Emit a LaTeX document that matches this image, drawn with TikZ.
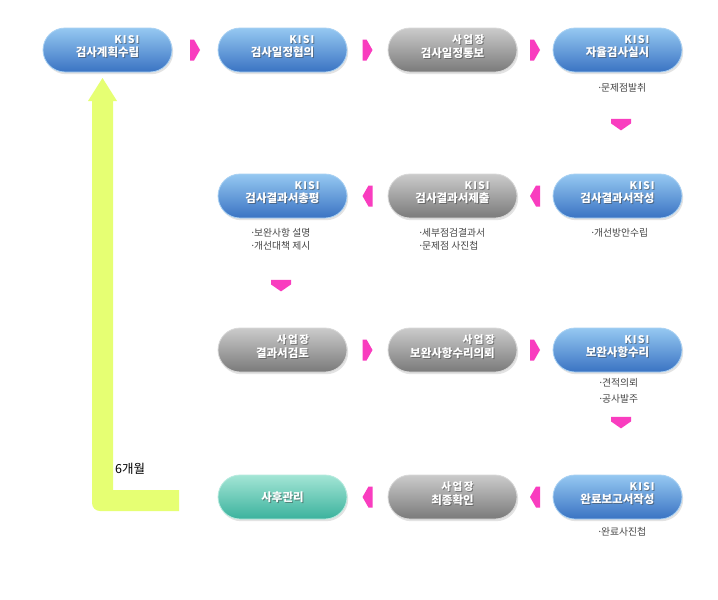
\documentclass[tikz,border=0pt]{standalone}
\usepackage{fontspec}
\newfontfamily\kr{Noto Sans CJK KR}
\usetikzlibrary{shadows,calc}
\definecolor{bT}{HTML}{95C8F1}
\definecolor{bM}{HTML}{5C9BDF}
\definecolor{bB}{HTML}{3A73C3}
\definecolor{bD}{HTML}{A9D1F3}
\definecolor{gT}{HTML}{CBCBCB}
\definecolor{gM}{HTML}{A0A0A0}
\definecolor{gB}{HTML}{7A7A7A}
\definecolor{gD}{HTML}{D8D8D8}
\definecolor{tT}{HTML}{A3E5D5}
\definecolor{tM}{HTML}{64CCB8}
\definecolor{tB}{HTML}{3BB29D}
\definecolor{tD}{HTML}{B8EBDF}
\definecolor{pk}{HTML}{F93DBF}
\definecolor{lime}{HTML}{E6FF73}
\definecolor{capc}{HTML}{464646}
\newcommand\kisi{K\kern1.1pt I\kern1.1pt S\kern1.1pt I}
\newcommand\saup{사\kern1.6pt 업\kern1.6pt 장}
\newcommand\sublab{\fontsize{10.5}{11}\selectfont}
\newcommand\bul{{·}\kern-1.6pt}
\newcommand\pillA[6]{%
  \node[#4] (#1) at (#2,#3) {};
  \node[shd] at ($(#1.center)+(1,-2.5)$) {{\sublab #5}\\#6};
  \node[lbl] at ($(#1.center)+(0,-3.5)$) {{\sublab #5}\\#6};
}
\begin{document}
\begin{tikzpicture}[x=1pt,y=-1pt,
  pill/.style={rounded corners=22pt, minimum width=129pt, minimum height=44pt,
    inner sep=0pt, line width=0.8pt,
    drop shadow={opacity=0.22, shadow xshift=1.2pt, shadow yshift=-2.2pt}},
  bluepill/.style={pill, top color=bT, middle color=bM, bottom color=bB, draw=bD},
  graypill/.style={pill, top color=gT, middle color=gM, bottom color=gB, draw=gD},
  tealpill/.style={pill, top color=tT, middle color=tM, bottom color=tB, draw=tD},
  lbl/.style={align=right, font=\kr\bfseries\fontsize{11.5}{13.5}\selectfont, text=white, inner sep=0pt},
  shd/.style={lbl, text=black!75, opacity=0.5},
  capt/.style={anchor=west, inner sep=0pt, font=\kr\fontsize{9.8}{11}\selectfont, text=capc},
  pinkarrow/.style={fill=pk},
  rarr/.pic={\fill[pinkarrow] (-5,-10.5) -- (-1,-10.5) -- (5,0) -- (-1,10.5) -- (-5,10.5) -- cycle;},
  larr/.pic={\fill[pinkarrow] (5,-10.5) -- (1,-10.5) -- (-5,0) -- (1,10.5) -- (5,10.5) -- cycle;},
  darr/.pic={\fill[pinkarrow] (-10,-5.5) -- (10,-5.5) -- (10,-1) -- (0,6) -- (-10,-1) -- cycle;}
]
\useasboundingbox (0,0) rectangle (718,600);
\fill[white] (0,0) rectangle (718,600);

% green return arrow
\fill[lime] (102.5,78) -- (117,101) -- (113,101) -- (113,490) -- (179,490) -- (179,511)
  -- (150,511) [rounded corners=8pt] -- (92,511) -- (92,300) [sharp corners] -- (92,101)
  -- (88,101) -- cycle;
\node[anchor=west, inner sep=0pt, font=\kr\fontsize{12.5}{14}\selectfont] (six) at (115,469) {6개월};

% row 1
\pillA{p11}{107.5}{50}{bluepill}{\kisi}{검사계획수립}
\pillA{p12}{282.5}{50}{bluepill}{\kisi}{검사일정협의}
\pillA{p13}{452.5}{50}{graypill}{\saup}{검사일정통보}
\pillA{p14}{617.5}{50}{bluepill}{\kisi}{자율검사실시}
% row 2
\pillA{p22}{282.5}{196}{bluepill}{\kisi}{검사결과서총평}
\pillA{p23}{452.5}{196}{graypill}{\kisi}{검사결과서제출}
\pillA{p24}{617.5}{196}{bluepill}{\kisi}{검사결과서작성}
% row 3
\pillA{p32}{282.5}{350}{graypill}{\saup}{결과서검토}
\pillA{p33}{452.5}{350}{graypill}{\saup}{보완사항수리의뢰}
\pillA{p34}{617.5}{350}{bluepill}{\kisi}{보완사항수리}
% row 4
\node[tealpill] (p42) at (282.5,497) {};
\node[shd] at ($(p42.center)+(1,1)$) {사후관리};
\node[lbl] at (p42.center) {사후관리};
\pillA{p43}{452.5}{497}{graypill}{\saup}{최종확인}
\pillA{p44}{617.5}{497}{bluepill}{\kisi}{완료보고서작성}

% pink arrows
\pic at ($(p11.east)!0.5!(p12.west)$) {rarr};
\pic at ($(p12.east)!0.5!(p13.west)$) {rarr};
\pic at ($(p13.east)!0.5!(p14.west)$) {rarr};
\pic at ($(p14.south)+(3.5,52)$) {darr};
\pic at ($(p24.west)!0.5!(p23.east)$) {larr};
\pic at ($(p23.west)!0.5!(p22.east)$) {larr};
\pic at ($(p22.south)+(-1.5,67)$) {darr};
\pic at ($(p32.east)!0.5!(p33.west)$) {rarr};
\pic at ($(p33.east)!0.5!(p34.west)$) {rarr};
\pic at ($(p34.south)+(3.5,50)$) {darr};
\pic at ($(p44.west)!0.5!(p43.east)$) {larr};
\pic at ($(p43.west)!0.5!(p42.east)$) {larr};

% captions
\node[capt] (c14) at (597,88) {\bul 문제점발취};
\node[capt] (c22a) at (250,233) {\bul 보완사항 설명};
\node[capt] (c22b) at (250,246) {\bul 개선대책 제시};
\node[capt] (c23a) at (418,233) {\bul 세부점검결과서};
\node[capt] (c23b) at (418,246) {\bul 문제점 사진첩};
\node[capt] (c24) at (590,233) {\bul 개선방안수립};
\node[capt] (c34a) at (598,383) {\bul 견적의뢰};
\node[capt] (c34b) at (598,399) {\bul 공사발주};
\node[capt] (c44) at (597,532) {\bul 완료사진첩};
\end{tikzpicture}
\end{document}
